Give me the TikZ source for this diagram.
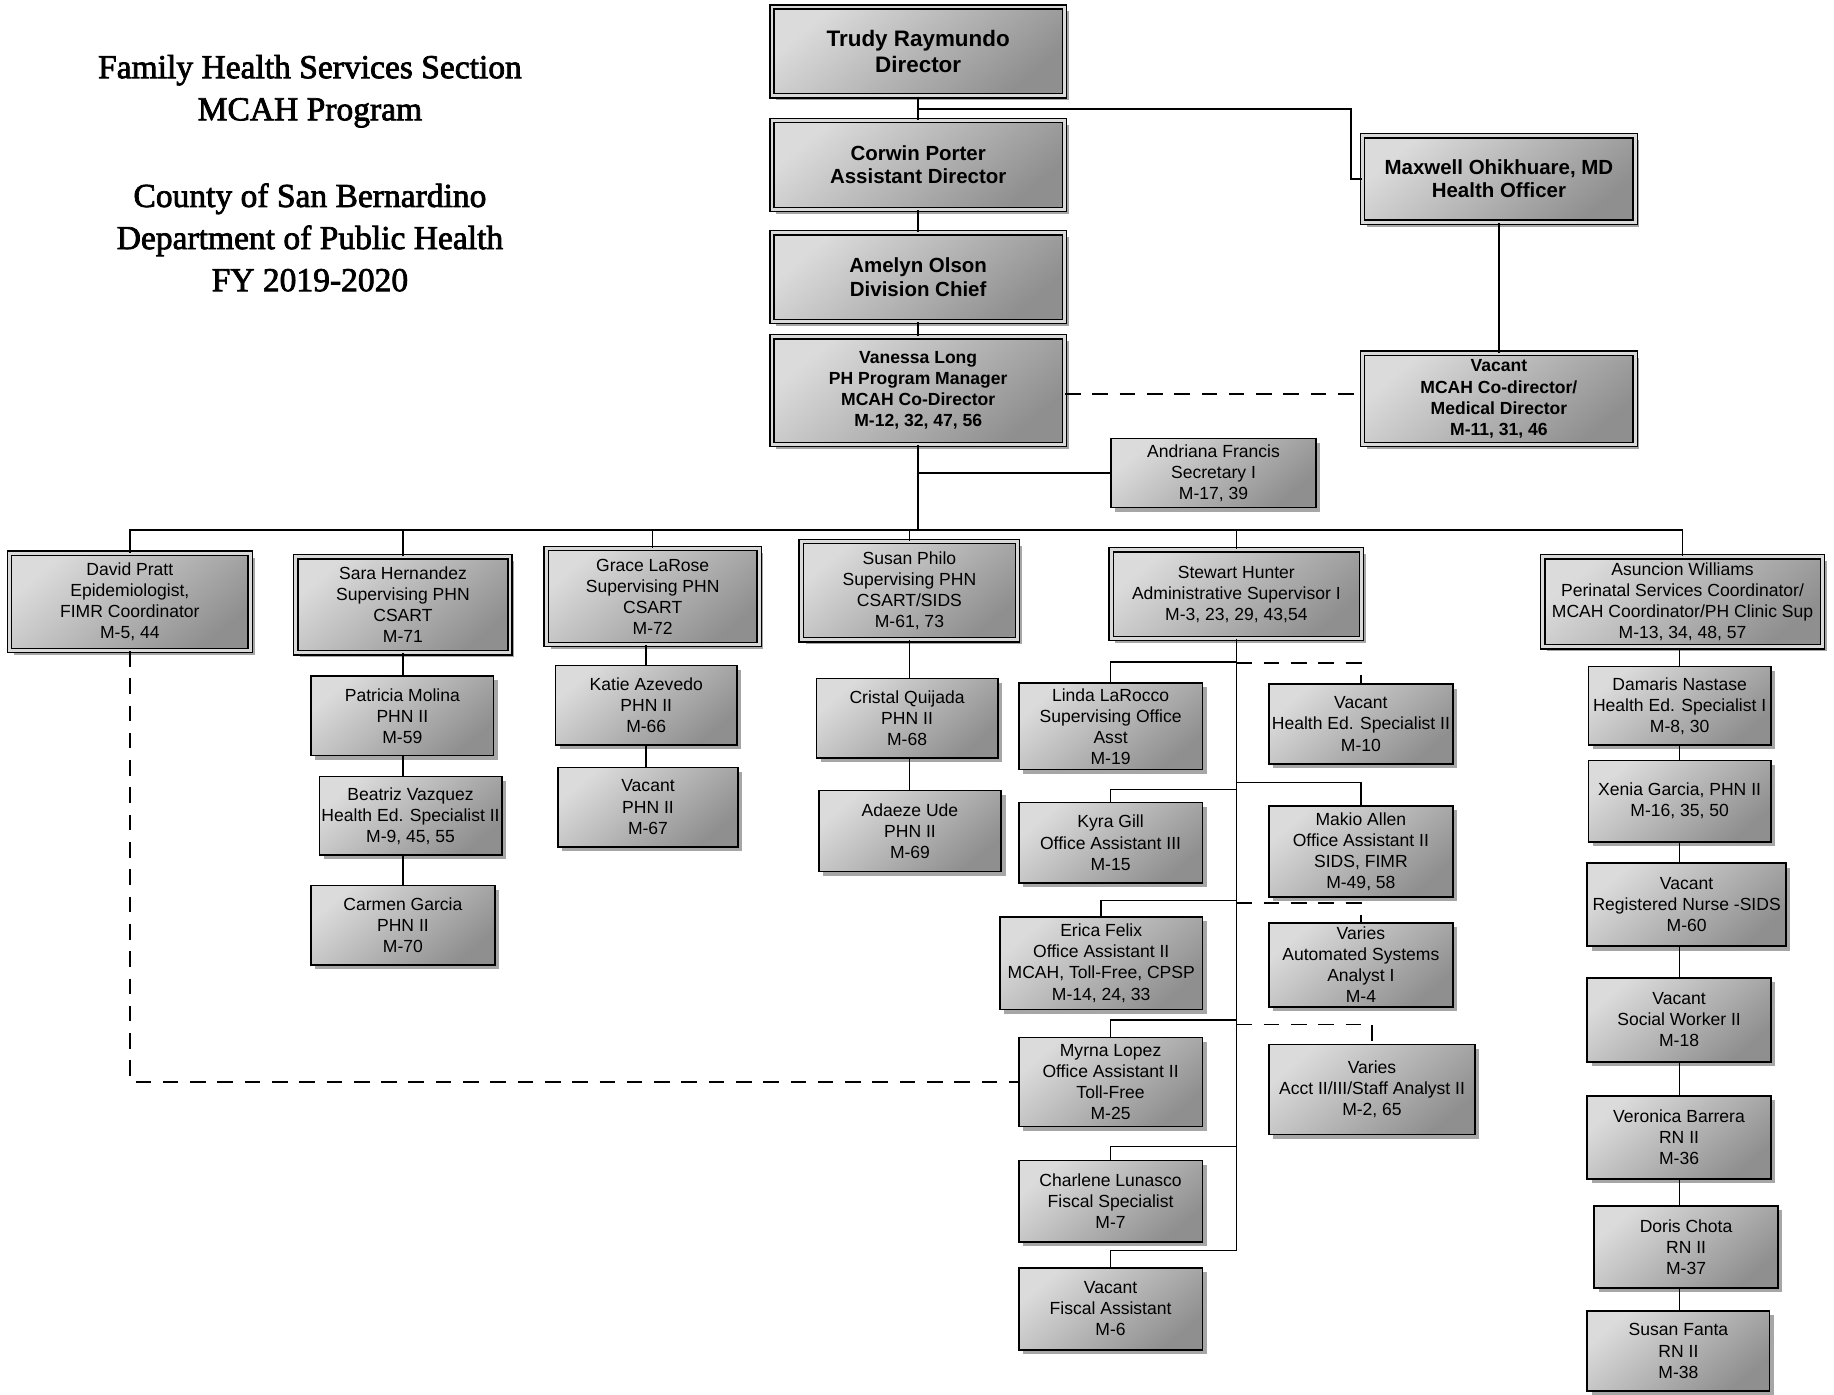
\documentclass[tikz,border=0pt]{standalone}
\usepackage{fontspec}
\setmainfont{Liberation Sans}
\newfontfamily\titlefont[FakeBold=2.2]{Liberation Serif}
\usetikzlibrary{shadows}
\definecolor{boxlight}{gray}{0.86}
\definecolor{boxdark}{gray}{0.56}
\newcommand\ob[7]{\node[#1, minimum width={(#5-#3)*0.6pt}, minimum height={(#6-#4)*0.6pt}] (#2) at ({(#3+#5)/2},{(#4+#6)/2}) {#7};}
\begin{document}
\begin{tikzpicture}[x=0.6pt,y=-0.6pt,
 ob/.style={inner sep=0pt, align=center, top color=boxlight, bottom color=boxdark, shading angle=40,
   drop shadow={shadow xshift=2.2pt, shadow yshift=-2.2pt, fill=black, opacity=0.35}},
 dbl/.style={ob, draw=black, line width=0.7pt, double=gray!30, double distance=1.5pt},
 sgl/.style={ob, draw=black, line width=0.8pt},
 fA/.style={font=\fontsize{11.5}{13.8}\selectfont\bfseries},
 fB/.style={font=\fontsize{10.5}{12}\selectfont\bfseries},
 fC/.style={font=\fontsize{9}{10.8}\selectfont\bfseries},
 fD/.style={font=\fontsize{9}{10.8}\selectfont},
 conn/.style={line width=0.8pt},
 dsh/.style={conn, dash pattern=on 8pt off 6pt},
 ttl/.style={font=\titlefont\fontsize{17.2}{21.6}\selectfont, align=center, inner sep=0pt}
]
\useasboundingbox[fill=white] (0,0) rectangle (1568,1192);

% title
\node[ttl] (t1) at (265,78) {Family Health Services Section\\MCAH Program};
\node[ttl] (t2) at (265,203) {County of San Bernardino\\Department of Public Health\\FY 2019-2020};

% top chain
\ob{dbl,fA}{trudy}{660}{6}{910}{82}{Trudy Raymundo\\Director}
\ob{dbl,fB}{corwin}{660}{103}{910}{179}{Corwin Porter\\Assistant Director}
\ob{dbl,fB}{amelyn}{660}{199}{910}{275}{Amelyn Olson\\Division Chief}
\ob{dbl,fC}{vanessa}{660}{288}{910}{380}{Vanessa Long\\PH Program Manager\\MCAH Co-Director\\M-12, 32, 47, 56}
\ob{dbl,fB}{maxwell}{1165}{116}{1398}{190}{Maxwell Ohikhuare, MD\\Health Officer}
\ob{dbl,fC}{vacmd}{1165}{302}{1398}{380}{Vacant\\MCAH Co-director/\\Medical Director\\M-11, 31, 46}
\ob{sgl,fD}{andriana}{950}{375}{1125}{434}{Andriana Francis\\Secretary I\\M-17, 39}

% second row
\ob{dbl,fD}{david}{8}{473}{214}{556}{David Pratt\\Epidemiologist,\\FIMR Coordinator\\M-5, 44}
\ob{dbl,fD}{sara}{253}{476}{436}{558}{Sara Hernandez\\Supervising PHN\\CSART\\M-71}
\ob{dbl,fD}{grace}{467}{469}{649}{551}{Grace LaRose\\Supervising PHN\\CSART\\M-72}
\ob{dbl,fD}{susan}{685}{463}{870}{547}{Susan Philo\\Supervising PHN\\CSART/SIDS\\M-61, 73}
\ob{dbl,fD}{stewart}{950}{470}{1164}{546}{Stewart Hunter\\Administrative Supervisor I\\M-3, 23, 29, 43,54}
\ob{dbl,fD}{asuncion}{1319}{476}{1558}{553}{Asuncion Williams\\Perinatal Services Coordinator/\\MCAH Coordinator/PH Clinic Sup\\M-13, 34, 48, 57}

% Sara column
\ob{sgl,fD}{patricia}{266}{578}{422}{646}{Patricia Molina\\PHN II\\M-59}
\ob{sgl,fD}{beatriz}{273}{664}{429}{731}{Beatriz Vazquez\\Health Ed. Specialist II\\M-9, 45, 55}
\ob{sgl,fD}{carmen}{266}{757}{423}{825}{Carmen Garcia\\PHN II\\M-70}
% Grace column
\ob{sgl,fD}{katie}{475}{569}{630}{637}{Katie Azevedo\\PHN II\\M-66}
\ob{sgl,fD}{vacphn}{477}{656}{631}{724}{Vacant\\PHN II\\M-67}
% Susan column
\ob{sgl,fD}{cristal}{698}{580}{853}{648}{Cristal Quijada\\PHN II\\M-68}
\ob{sgl,fD}{adaeze}{700}{676}{856}{745}{Adaeze Ude\\PHN II\\M-69}
% Stewart group
\ob{sgl,fD}{linda}{871}{584}{1028}{658}{Linda LaRocco\\Supervising Office\\Asst\\M-19}
\ob{sgl,fD}{vaches}{1085}{585}{1242}{653}{Vacant\\Health Ed. Specialist II\\M-10}
\ob{sgl,fD}{kyra}{871}{686}{1028}{755}{Kyra Gill\\Office Assistant III\\M-15}
\ob{sgl,fD}{makio}{1085}{689}{1242}{767}{Makio Allen\\Office Assistant II\\SIDS, FIMR\\M-49, 58}
\ob{sgl,fD}{erica}{855}{784}{1028}{863}{Erica Felix\\Office Assistant II\\MCAH, Toll-Free, CPSP\\M-14, 24, 33}
\ob{sgl,fD}{varasa}{1085}{789}{1242}{861}{Varies\\Automated Systems\\Analyst I\\M-4}
\ob{sgl,fD}{myrna}{871}{887}{1028}{963}{Myrna Lopez\\Office Assistant II\\Toll-Free\\M-25}
\ob{sgl,fD}{varacct}{1085}{893}{1261}{970}{Varies\\Acct II/III/Staff Analyst II\\M-2, 65}
\ob{sgl,fD}{charlene}{871}{992}{1028}{1062}{Charlene Lunasco\\Fiscal Specialist\\M-7}
\ob{sgl,fD}{vacfa}{871}{1084}{1028}{1154}{Vacant\\Fiscal Assistant\\M-6}
% Asuncion column
\ob{sgl,fD}{damaris}{1358}{570}{1514}{637}{Damaris Nastase\\Health Ed. Specialist I\\M-8, 30}
\ob{sgl,fD}{xenia}{1358}{650}{1514}{720}{Xenia Garcia, PHN II\\M-16, 35, 50}
\ob{sgl,fD}{vacrn}{1357}{738}{1527}{809}{Vacant\\Registered Nurse -SIDS\\M-60}
\ob{sgl,fD}{vacsw}{1357}{836}{1514}{908}{Vacant\\Social Worker II\\M-18}
\ob{sgl,fD}{veronica}{1357}{937}{1514}{1008}{Veronica Barrera\\RN II\\M-36}
\ob{sgl,fD}{doris}{1363}{1031}{1520}{1101}{Doris Chota\\RN II\\M-37}
\ob{sgl,fD}{susanf}{1357}{1121}{1513}{1189}{Susan Fanta\\RN II\\M-38}

% helper coordinates
\coordinate (tj) at (785,93);
\coordinate (mxj) at (1155,0);
\coordinate (bus) at (785,453);
\coordinate (colA) at (1436,0);
\coordinate (dv) at (0,337);
\coordinate (l1) at (0,566);
\coordinate (l2) at (0,675);
\coordinate (l3) at (0,770);
\coordinate (l4) at (0,872);
\coordinate (l5) at (0,980);
\coordinate (l6) at (0,1069);
\coordinate (r1) at (0,567);
\coordinate (r2) at (0,669);
\coordinate (r3) at (0,772);
\coordinate (r4) at (0,876);

% top connectors
\draw[conn] (trudy.south) -- (corwin.north);
\draw[conn] (tj) -| (mxj |- maxwell.west) -- (maxwell.west);
\draw[conn] (corwin.south) -- (amelyn.north);
\draw[conn] (amelyn.south) -- (vanessa.north);
\draw[conn] (maxwell.south) -- (vacmd.north);
\draw[dsh] (vanessa.east |- dv) -- (vacmd.west |- dv);
\draw[conn] (vanessa.south) -- (vanessa.south |- bus);
\draw[conn] (vanessa.south |- andriana.west) -- (andriana.west);

% bus
\draw[conn] (david.north) -- (david.north |- bus) -- (asuncion.north |- bus) -- (asuncion.north);
\foreach \n in {sara,grace,susan,stewart} \draw[conn] (\n.north) -- (\n.north |- bus);

% Sara column
\draw[conn] (sara.south) -- (sara.south |- patricia.north);
\draw[conn] (sara.south |- patricia.south) -- (sara.south |- beatriz.north);
\draw[conn] (sara.south |- beatriz.south) -- (sara.south |- carmen.north);
% Grace column
\draw[conn] (katie.north |- grace.south) -- (katie.north);
\draw[conn] (katie.south) -- (katie.south |- vacphn.north);
% Susan column
\draw[conn] (susan.south) -- (susan.south |- cristal.north);
\draw[conn] (susan.south |- cristal.south) -- (susan.south |- adaeze.north);
% Asuncion column
\draw[conn] (colA |- asuncion.south) -- (colA |- damaris.north);
\draw[conn] (colA |- damaris.south) -- (colA |- xenia.north);
\draw[conn] (colA |- xenia.south) -- (colA |- vacrn.north);
\draw[conn] (colA |- vacrn.south) -- (colA |- vacsw.north);
\draw[conn] (colA |- vacsw.south) -- (colA |- veronica.north);
\draw[conn] (colA |- veronica.south) -- (colA |- doris.north);
\draw[conn] (colA |- doris.south) -- (colA |- susanf.north);

% Stewart spine and branches
\draw[conn] (stewart.south) |- (vacfa.north |- l6) -- (vacfa.north);
\draw[conn] (stewart.south |- l1) -| (linda.north);
\draw[conn] (stewart.south |- l2) -| (kyra.north);
\draw[conn] (stewart.south |- l3) -| (erica.north);
\draw[conn] (stewart.south |- l4) -| (myrna.north);
\draw[conn] (stewart.south |- l5) -| (charlene.north);
\draw[dsh] (stewart.south |- r1) -| (vaches.north);
\draw[conn] (stewart.south |- r2) -| (makio.north);
\draw[dsh] (stewart.south |- r3) -| (varasa.north);
\draw[dsh] (stewart.south |- r4) -| (varacct.north);

% dashed link David Pratt -> Myrna Lopez
\draw[dsh] (david.south) |- (myrna.west);
\end{tikzpicture}
\end{document}
